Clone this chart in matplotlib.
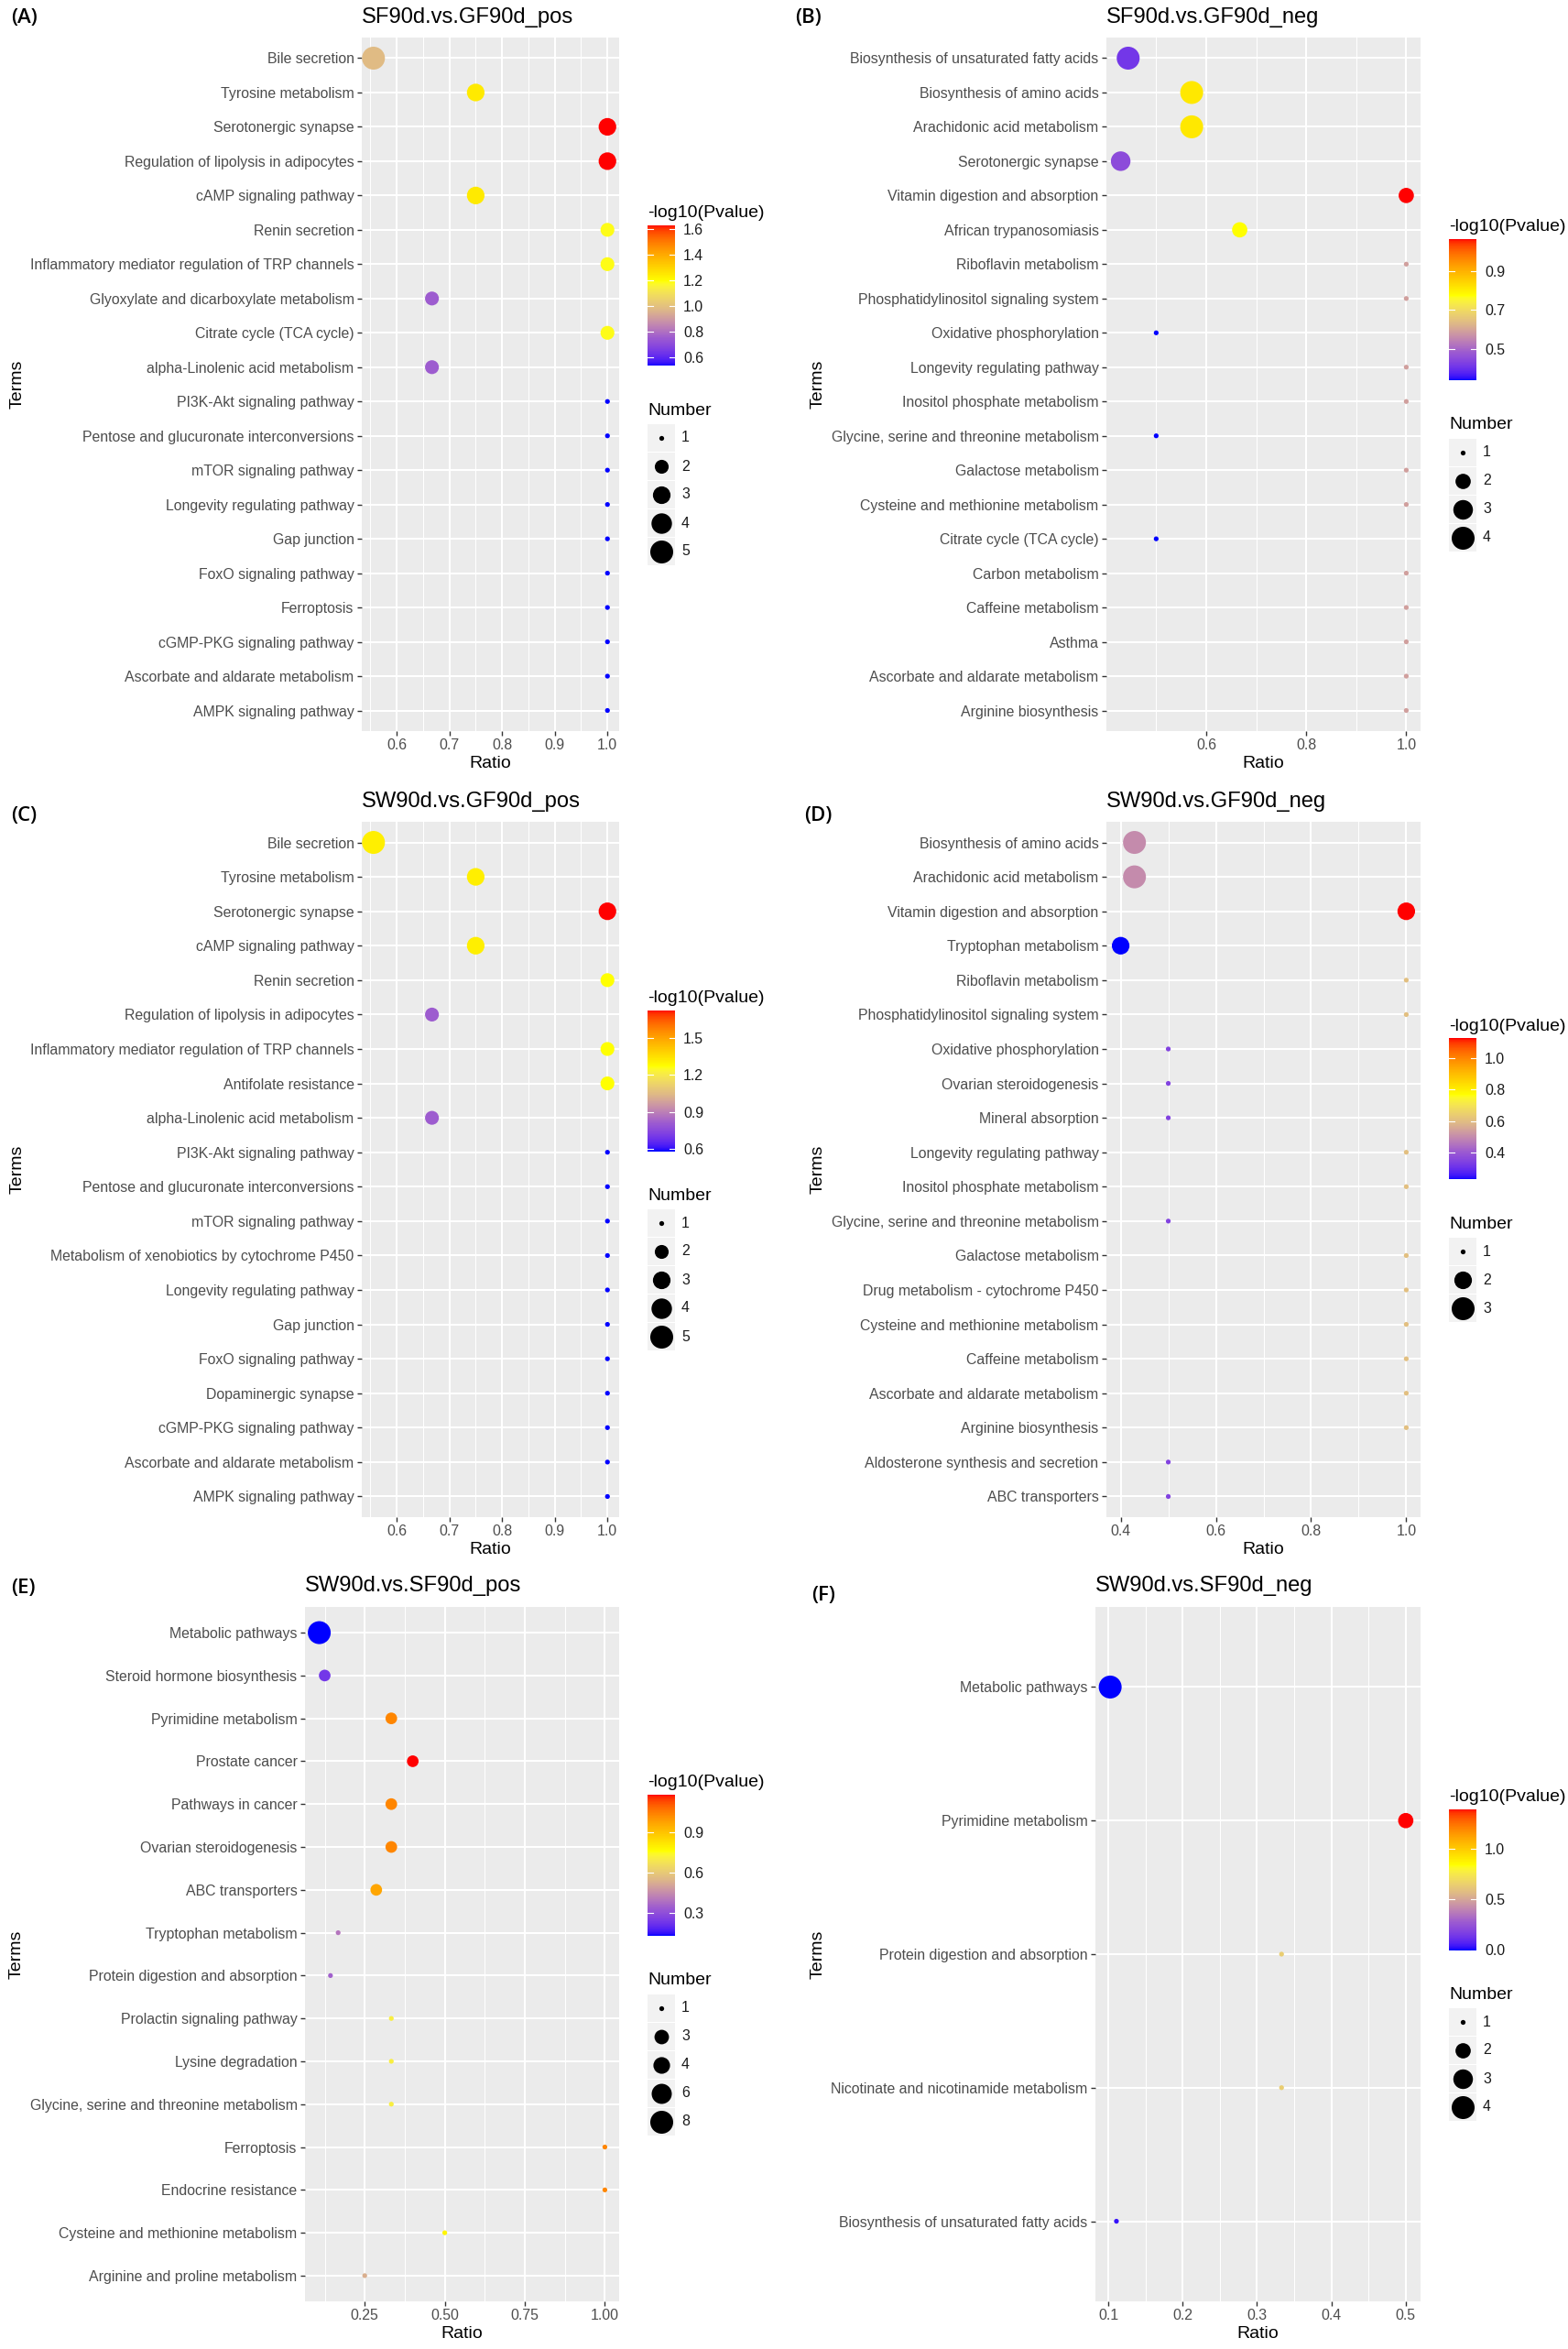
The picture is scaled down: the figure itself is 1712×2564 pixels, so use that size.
import numpy as np
import matplotlib
matplotlib.use("Agg")
import matplotlib.pyplot as plt
from matplotlib.colors import ListedColormap, Normalize, to_rgb
from matplotlib.cm import ScalarMappable
from matplotlib.patches import Rectangle

plt.rcParams['font.family'] = ['Liberation Sans', 'DejaVu Sans']

W, H = 1712, 2564

# (A) SF90d vs GF90d, positive mode
a_title = "SF90d.vs.GF90d_pos"
a_terms = ["Bile secretion", "Tyrosine metabolism", "Serotonergic synapse",
           "Regulation of lipolysis in adipocytes", "cAMP signaling pathway",
           "Renin secretion", "Inflammatory mediator regulation of TRP channels",
           "Glyoxylate and dicarboxylate metabolism", "Citrate cycle (TCA cycle)",
           "alpha-Linolenic acid metabolism", "PI3K-Akt signaling pathway",
           "Pentose and glucuronate interconversions", "mTOR signaling pathway",
           "Longevity regulating pathway", "Gap junction", "FoxO signaling pathway",
           "Ferroptosis", "cGMP-PKG signaling pathway",
           "Ascorbate and aldarate metabolism", "AMPK signaling pathway"]
a_ratio = [0.556, 0.75, 1.0, 1.0, 0.75, 1.0, 1.0, 0.667, 1.0, 0.667,
           1.0, 1.0, 1.0, 1.0, 1.0, 1.0, 1.0, 1.0, 1.0, 1.0]
a_number = [5, 3, 3, 3, 3, 2, 2, 2, 2, 2, 1, 1, 1, 1, 1, 1, 1, 1, 1, 1]
a_logp = [0.98, 1.24, 1.63, 1.63, 1.24, 1.18, 1.18, 0.75, 1.18, 0.75,
          0.53, 0.53, 0.53, 0.53, 0.53, 0.53, 0.53, 0.53, 0.53, 0.53]
a_xticks = ["0.6", "0.7", "0.8", "0.9", "1.0"]
a_cticks = ["0.6", "0.8", "1.0", "1.2", "1.4", "1.6"]
a_keys = [1, 2, 3, 4, 5]

# (B) SF90d vs GF90d, negative mode
b_title = "SF90d.vs.GF90d_neg"
b_terms = ["Biosynthesis of unsaturated fatty acids", "Biosynthesis of amino acids",
           "Arachidonic acid metabolism", "Serotonergic synapse",
           "Vitamin digestion and absorption", "African trypanosomiasis",
           "Riboflavin metabolism", "Phosphatidylinositol signaling system",
           "Oxidative phosphorylation", "Longevity regulating pathway",
           "Inositol phosphate metabolism", "Glycine, serine and threonine metabolism",
           "Galactose metabolism", "Cysteine and methionine metabolism",
           "Citrate cycle (TCA cycle)", "Carbon metabolism", "Caffeine metabolism",
           "Asthma", "Ascorbate and aldarate metabolism", "Arginine biosynthesis"]
b_ratio = [0.444, 0.571, 0.571, 0.429, 1.0, 0.667, 1.0, 1.0, 0.5, 1.0,
           1.0, 0.5, 1.0, 1.0, 0.5, 1.0, 1.0, 1.0, 1.0, 1.0]
b_number = [4, 4, 4, 3, 2, 2, 1, 1, 1, 1, 1, 1, 1, 1, 1, 1, 1, 1, 1, 1]
b_logp = [0.41, 0.81, 0.81, 0.45, 1.066, 0.775, 0.59, 0.59, 0.337, 0.59,
          0.59, 0.337, 0.59, 0.59, 0.337, 0.59, 0.59, 0.59, 0.59, 0.59]
b_xticks = ["0.6", "0.8", "1.0"]
b_cticks = ["0.5", "0.7", "0.9"]
b_keys = [1, 2, 3, 4]

# (C) SW90d vs GF90d, positive mode
c_title = "SW90d.vs.GF90d_pos"
c_terms = ["Bile secretion", "Tyrosine metabolism", "Serotonergic synapse",
           "cAMP signaling pathway", "Renin secretion",
           "Regulation of lipolysis in adipocytes",
           "Inflammatory mediator regulation of TRP channels", "Antifolate resistance",
           "alpha-Linolenic acid metabolism", "PI3K-Akt signaling pathway",
           "Pentose and glucuronate interconversions", "mTOR signaling pathway",
           "Metabolism of xenobiotics by cytochrome P450",
           "Longevity regulating pathway", "Gap junction", "FoxO signaling pathway",
           "Dopaminergic synapse", "cGMP-PKG signaling pathway",
           "Ascorbate and aldarate metabolism", "AMPK signaling pathway"]
c_ratio = [0.556, 0.75, 1.0, 0.75, 1.0, 0.667, 1.0, 1.0, 0.667, 1.0,
           1.0, 1.0, 1.0, 1.0, 1.0, 1.0, 1.0, 1.0, 1.0, 1.0]
c_number = [5, 3, 3, 3, 2, 2, 2, 2, 2, 1, 1, 1, 1, 1, 1, 1, 1, 1, 1, 1]
c_logp = [1.31, 1.31, 1.73, 1.31, 1.27, 0.81, 1.27, 1.27, 0.81, 0.58,
          0.58, 0.58, 0.58, 0.58, 0.58, 0.58, 0.58, 0.58, 0.58, 0.58]
c_xticks = ["0.6", "0.7", "0.8", "0.9", "1.0"]
c_cticks = ["0.6", "0.9", "1.2", "1.5"]
c_keys = [1, 2, 3, 4, 5]

# (D) SW90d vs GF90d, negative mode
d_title = "SW90d.vs.GF90d_neg"
d_terms = ["Biosynthesis of amino acids", "Arachidonic acid metabolism",
           "Vitamin digestion and absorption", "Tryptophan metabolism",
           "Riboflavin metabolism", "Phosphatidylinositol signaling system",
           "Oxidative phosphorylation", "Ovarian steroidogenesis", "Mineral absorption",
           "Longevity regulating pathway", "Inositol phosphate metabolism",
           "Glycine, serine and threonine metabolism", "Galactose metabolism",
           "Drug metabolism - cytochrome P450", "Cysteine and methionine metabolism",
           "Caffeine metabolism", "Ascorbate and aldarate metabolism",
           "Arginine biosynthesis", "Aldosterone synthesis and secretion",
           "ABC transporters"]
d_ratio = [0.429, 0.429, 1.0, 0.4, 1.0, 1.0, 0.5, 0.5, 0.5, 1.0,
           1.0, 0.5, 1.0, 1.0, 1.0, 1.0, 1.0, 1.0, 0.5, 0.5]
d_number = [3, 3, 2, 2, 1, 1, 1, 1, 1, 1, 1, 1, 1, 1, 1, 1, 1, 1, 1, 1]
d_logp = [0.50, 0.50, 1.124, 0.229, 0.605, 0.605, 0.345, 0.345, 0.345, 0.605,
          0.605, 0.345, 0.605, 0.605, 0.605, 0.605, 0.605, 0.605, 0.345, 0.345]
d_xticks = ["0.4", "0.6", "0.8", "1.0"]
d_cticks = ["0.4", "0.6", "0.8", "1.0"]
d_keys = [1, 2, 3]

# (E) SW90d vs SF90d, positive mode
e_title = "SW90d.vs.SF90d_pos"
e_terms = ["Metabolic pathways", "Steroid hormone biosynthesis", "Pyrimidine metabolism",
           "Prostate cancer", "Pathways in cancer", "Ovarian steroidogenesis",
           "ABC transporters", "Tryptophan metabolism", "Protein digestion and absorption",
           "Prolactin signaling pathway", "Lysine degradation",
           "Glycine, serine and threonine metabolism", "Ferroptosis",
           "Endocrine resistance", "Cysteine and methionine metabolism",
           "Arginine and proline metabolism"]
e_ratio = [0.108, 0.125, 0.333, 0.4, 0.333, 0.333, 0.286, 0.167, 0.143, 0.333,
           0.333, 0.333, 1.0, 1.0, 0.5, 0.25]
e_number = [8, 2, 2, 2, 2, 2, 2, 1, 1, 1, 1, 1, 1, 1, 1, 1]
e_logp = [0.13, 0.235, 1.03, 1.18, 1.03, 1.03, 0.97, 0.40, 0.35, 0.71,
          0.71, 0.71, 1.03, 1.03, 0.78, 0.53]
e_xticks = ["0.25", "0.50", "0.75", "1.00"]
e_cticks = ["0.3", "0.6", "0.9"]
e_keys = [1, 3, 4, 6, 8]

# (F) SW90d vs SF90d, negative mode
f_title = "SW90d.vs.SF90d_neg"
f_terms = ["Metabolic pathways", "Pyrimidine metabolism",
           "Protein digestion and absorption", "Nicotinate and nicotinamide metabolism",
           "Biosynthesis of unsaturated fatty acids"]
f_ratio = [0.1026, 0.5, 0.333, 0.333, 0.111]
f_number = [4, 2, 1, 1, 1]
f_logp = [0.0, 1.39, 0.64, 0.64, 0.03]
f_xticks = ["0.1", "0.2", "0.3", "0.4", "0.5"]
f_cticks = ["0.0", "0.5", "1.0"]
f_keys = [1, 2, 3, 4]

ramp = ["#0000FF", "#9D5CCF", "#DEB887", "#FFFF00", "#FFA500", "#FF0000"]


# gradient interpolated in CIELAB like ggplot's gradientn
M = np.array([[0.4124564, 0.3575761, 0.1804375],
              [0.2126729, 0.7151522, 0.0721750],
              [0.0193339, 0.1191920, 0.9503041]])
WHITE = np.array([0.95047, 1.0, 1.08883])
D = 6 / 29


def rgb2lab(rgb):
    lin = np.where(rgb > 0.04045, ((rgb + 0.055) / 1.055) ** 2.4, rgb / 12.92)
    xyz = lin @ M.T / WHITE
    f = np.where(xyz > D ** 3, np.cbrt(xyz), xyz / (3 * D ** 2) + 4 / 29)
    return np.column_stack([116 * f[:, 1] - 16, 500 * (f[:, 0] - f[:, 1]),
                            200 * (f[:, 1] - f[:, 2])])


def lab2rgb(lab):
    fy = (lab[:, 0] + 16) / 116
    f = np.column_stack([fy + lab[:, 1] / 500, fy, fy - lab[:, 2] / 200])
    xyz = np.where(f > D, f ** 3, 3 * D ** 2 * (f - 4 / 29)) * WHITE
    lin = np.clip(xyz @ np.linalg.inv(M).T, 0, 1)
    return np.where(lin > 0.0031308, 1.055 * lin ** (1 / 2.4) - 0.055, 12.92 * lin)


lab = rgb2lab(np.array([to_rgb(c) for c in ramp]))
pos = np.linspace(0, 1, len(ramp))
tt = np.linspace(0, 1, 256)
lab_i = np.column_stack([np.interp(tt, pos, lab[:, i]) for i in range(3)])
cmap = ListedColormap(np.clip(lab2rgb(lab_i), 0, 1))


def dot_pt(n, lo, hi):
    # ggplot area scale, range 1..6 mm
    t = (np.asarray(n, float) - lo) / (hi - lo)
    return (1 + 5 * np.sqrt(t)) * 2.845 + 0.945


def px_rect(x0, y0, x1, y1):
    return [x0 / W, 1 - y1 / H, (x1 - x0) / W, (y1 - y0) / H]


fig = plt.figure(figsize=(W / 100, H / 100), dpi=100)

TICK_FS = 11.4
AXT_FS = 14.0


def draw_panel(box, tag, tag_xy, title, terms, ratio, number, logp, xticks, cticks, keys):
    x0, y0, x1, y1 = box
    ax = fig.add_axes(px_rect(*box))
    ax.set_facecolor("#EBEBEB")
    for s in ax.spines.values():
        s.set_visible(False)
    n = len(terms)
    ypos = np.arange(n, 0, -1)
    lo, hi = min(number), max(number)
    norm = Normalize(min(logp), max(logp))
    ax.scatter(ratio, ypos, s=dot_pt(number, lo, hi) ** 2, c=logp, cmap=cmap,
               norm=norm, linewidths=0, zorder=3, clip_on=False)
    r0, r1 = min(ratio), max(ratio)
    xl = (r0 - 0.05 * (r1 - r0), r1 + 0.05 * (r1 - r0))
    ax.set_xlim(*xl)
    ax.set_ylim(0.4, n + 0.6)

    major = [float(t) for t in xticks]
    step = major[1] - major[0]
    minor = [m for m in np.arange(major[0] - step / 2, major[-1] + step, step)
             if xl[0] < m < xl[1]]
    ax.set_xticks(major, xticks)
    ax.set_xticks(minor, minor=True)
    ax.set_yticks(ypos, terms)
    ax.grid(which="major", color="white", lw=1.45)
    ax.grid(which="minor", axis="x", color="white", lw=0.75)
    ax.set_axisbelow(True)
    ax.tick_params(which="major", length=3.9, width=1.0, color="#333333",
                   labelsize=TICK_FS, labelcolor="#4D4D4D", pad=2.2)
    ax.tick_params(which="minor", length=0)
    ax.set_xlabel("Ratio", fontsize=AXT_FS, labelpad=2.5)
    ax.set_ylabel("Terms", fontsize=AXT_FS, labelpad=4)

    fig.text(x0 / W, 1 - (y0 - 16.5) / H, title, fontsize=17.1, va="baseline", ha="left")
    fig.text(tag_xy[0] / W, 1 - tag_xy[1] / H, tag, fontsize=16,
             family=["Open Sans", "DejaVu Sans"], weight="semibold", va="center", ha="left")

    # legends, centred on the panel
    K = len(keys)
    cx = x1 + 31
    top = (y0 + y1) / 2 - (270 + 31 * (K - 1)) / 2 + 23
    cax = fig.add_axes(px_rect(cx, top, cx + 30, top + 154))
    cb = fig.colorbar(ScalarMappable(norm=norm, cmap=cmap), cax=cax)
    cb.outline.set_visible(False)
    cvals = [float(t) for t in cticks]
    cb.set_ticks(cvals, labels=cticks)
    cax.tick_params(length=0, pad=6.5, labelsize=TICK_FS, labelcolor="#1A1A1A")
    for v in cvals:
        for xa in ([0, 0.2], [0.8, 1.0]):
            cax.plot(xa, [v, v], color="white", lw=0.8,
                     transform=cax.get_yaxis_transform())
    fig.text(cx / W, 1 - (top - 13) / H, "-log10(Pvalue)", fontsize=AXT_FS,
             va="center", ha="left")
    fig.text(cx / W, 1 - (top + 203) / H, "Number", fontsize=AXT_FS,
             va="center", ha="left")

    k_top = top + 217
    k_bot = k_top + 31 * K
    lax = fig.add_axes(px_rect(cx, k_top, cx + 30, k_bot))
    lax.set_xlim(0, 30)
    lax.set_ylim(31 * K, 0)
    lax.axis("off")
    for i, k in enumerate(keys):
        lax.add_patch(Rectangle((0, 31 * i + 0.5), 30, 30, fc="#F2F2F2", ec="none"))
        lax.scatter([15], [31 * i + 15.5], s=dot_pt(k, lo, hi) ** 2, color="black",
                    linewidths=0, clip_on=False, zorder=3)
        lax.text(37, 31 * i + 15.5, str(k), fontsize=TICK_FS, color="#1A1A1A",
                 va="center", ha="left")


draw_panel((395, 41, 676, 798), "(A)", (12, 20), a_title, a_terms, a_ratio,
           a_number, a_logp, a_xticks, a_cticks, a_keys)
draw_panel((1208, 41, 1551, 798), "(B)", (868, 20), b_title, b_terms, b_ratio,
           b_number, b_logp, b_xticks, b_cticks, b_keys)
draw_panel((395, 897, 676, 1656), "(C)", (12, 890), c_title, c_terms, c_ratio,
           c_number, c_logp, c_xticks, c_cticks, c_keys)
draw_panel((1208, 897, 1551, 1656), "(D)", (878, 890), d_title, d_terms, d_ratio,
           d_number, d_logp, d_xticks, d_cticks, d_keys)
draw_panel((333, 1754, 676, 2512), "(E)", (12, 1733), e_title, e_terms, e_ratio,
           e_number, e_logp, e_xticks, e_cticks, e_keys)
draw_panel((1196, 1754, 1551, 2512), "(F)", (886, 1741), f_title, f_terms, f_ratio,
           f_number, f_logp, f_xticks, f_cticks, f_keys)

fig.savefig("out.png", dpi=100, facecolor="white")
